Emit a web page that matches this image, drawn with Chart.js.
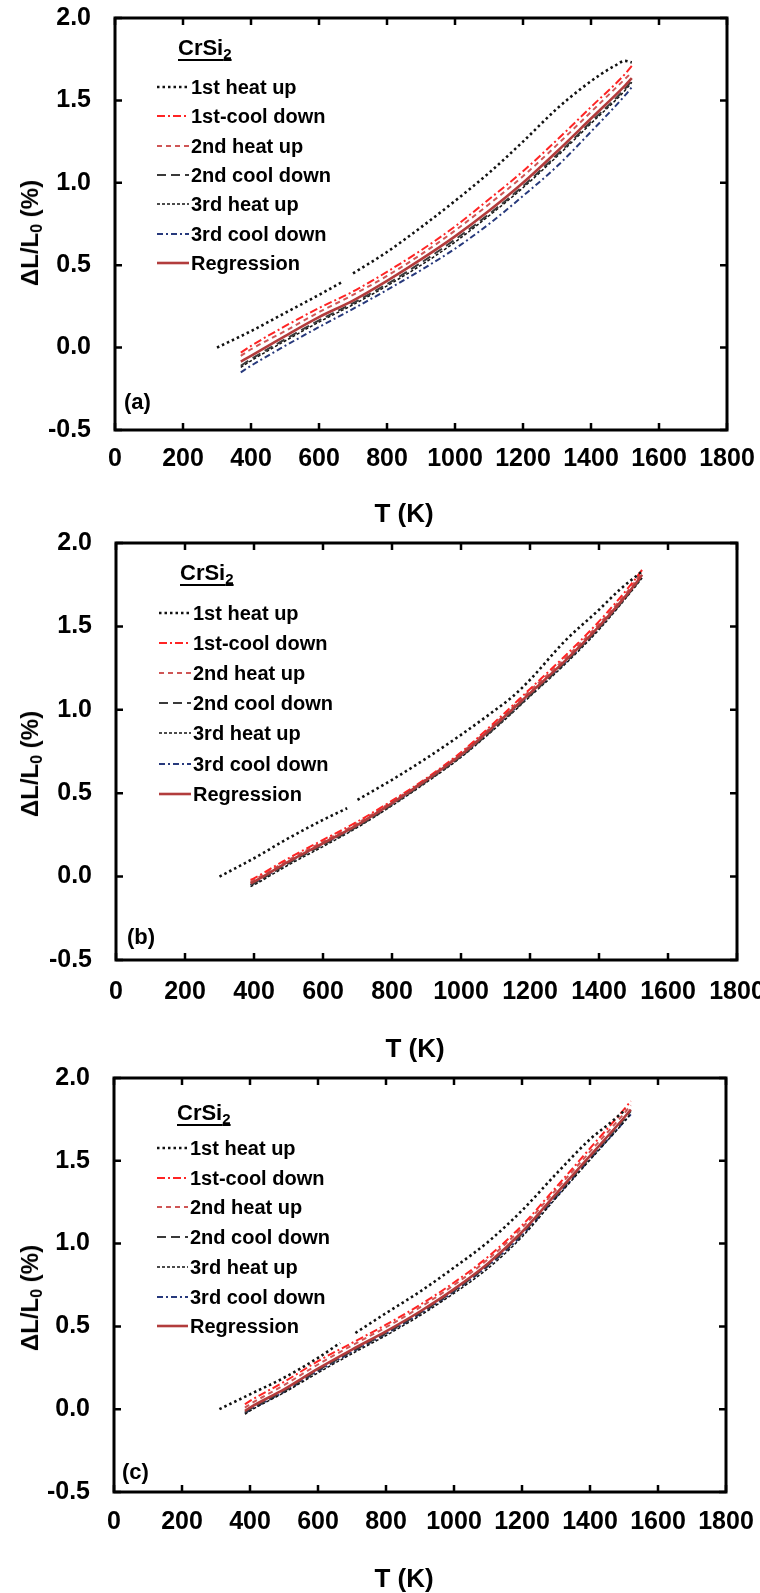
<!DOCTYPE html>
<html>
<head>
<meta charset="utf-8">
<script src="https://cdn.jsdelivr.net/npm/chart.js@4.4.1/dist/chart.umd.min.js"></script>
<style>
    body { margin: 0; background: #fff; }
    #page { position: relative; width: 760px; height: 1593px; overflow: hidden; font-family: "Liberation Sans", Arial, sans-serif; font-weight: bold; color: #000; }
    #page canvas { position: absolute; left: 0; }
    .legend-title { position: absolute; font-size: 22px; line-height: 22px; text-decoration: underline; text-decoration-thickness: 2px; text-underline-offset: 4px; white-space: nowrap; }
    .legend-title sub { font-size: 15px; vertical-align: -4px; line-height: 0; }
    .entry { position: absolute; font-size: 20px; line-height: 20px; white-space: nowrap; }
    .sample { position: absolute; overflow: visible; }
    .ytitle { position: absolute; font-size: 24px; line-height: 24px; white-space: nowrap; transform: translate(-50%, -50%) rotate(-90deg); }
    .ytitle sub { font-size: 16px; vertical-align: -4px; line-height: 0; }
    .xtitle { position: absolute; font-size: 26px; line-height: 26px; white-space: nowrap; transform: translate(-50%, -50%); }
    .tag { position: absolute; font-size: 22px; line-height: 22px; }
</style>
</head>
<body>
<div id="page">
    <canvas id="chartA" width="760" height="530" style="top:0"></canvas>
    <canvas id="chartB" width="760" height="535" style="top:530px"></canvas>
    <canvas id="chartC" width="760" height="528" style="top:1065px"></canvas>
</div>
<script>
// ---- data ----
const legendLabels = ['1st heat up', '1st-cool down', '2nd heat up', '2nd cool down', '3rd heat up', '3rd cool down', 'Regression'];
const xTicks = [0, 200, 400, 600, 800, 1000, 1200, 1400, 1600, 1800];
const yTicks = [-0.5, 0.0, 0.5, 1.0, 1.5, 2.0];

// panel (a)
const tHeat1A = [300, 400, 500, 600, 670, 685, 700, 800, 900, 1000, 1100, 1200, 1300, 1370, 1430, 1470, 1500, 1520];
const heat1A = [0.00, 0.10, 0.21, 0.32, 0.40, null, 0.45, 0.58, 0.73, 0.89, 1.06, 1.25, 1.45, 1.57, 1.66, 1.71, 1.74, 1.73];
const tRunA = [370, 400, 500, 600, 700, 800, 900, 1000, 1100, 1200, 1300, 1400, 1500, 1520];
const cool1A = [-0.03, 0.01, 0.13, 0.24, 0.34, 0.46, 0.59, 0.735, 0.90, 1.07, 1.26, 1.46, 1.66, 1.71];
const heat2A = [-0.05, -0.01, 0.10, 0.215, 0.32, 0.435, 0.565, 0.71, 0.87, 1.04, 1.23, 1.43, 1.63, 1.67];
const cool2A = [-0.11, -0.07, 0.05, 0.165, 0.27, 0.385, 0.515, 0.655, 0.81, 0.98, 1.17, 1.37, 1.57, 1.62];
const heat3A = [-0.12, -0.08, 0.04, 0.155, 0.26, 0.375, 0.50, 0.64, 0.80, 0.97, 1.16, 1.36, 1.56, 1.61];
const cool3A = [-0.15, -0.11, 0.01, 0.125, 0.235, 0.35, 0.47, 0.60, 0.75, 0.92, 1.10, 1.31, 1.53, 1.58];
const regA = [-0.085, -0.05, 0.07, 0.185, 0.285, 0.405, 0.535, 0.675, 0.83, 1.00, 1.19, 1.39, 1.59, 1.635];

// panel (b)
const tHeat1B = [300, 400, 500, 600, 670, 685, 700, 800, 900, 1000, 1100, 1150, 1200, 1300, 1400, 1460, 1525];
const heat1B = [0.00, 0.11, 0.23, 0.34, 0.41, null, 0.46, 0.58, 0.71, 0.85, 1.00, 1.08, 1.18, 1.41, 1.60, 1.72, 1.83];
const tRunB = [390, 400, 500, 600, 700, 800, 900, 1000, 1100, 1200, 1300, 1400, 1500, 1525];
const cool1B = [-0.02, -0.01, 0.11, 0.22, 0.33, 0.455, 0.59, 0.745, 0.93, 1.125, 1.32, 1.53, 1.77, 1.84];
const heat2B = [-0.03, -0.02, 0.10, 0.21, 0.32, 0.45, 0.585, 0.74, 0.92, 1.115, 1.305, 1.515, 1.755, 1.83];
const cool2B = [-0.05, -0.04, 0.08, 0.19, 0.30, 0.43, 0.57, 0.72, 0.895, 1.085, 1.28, 1.49, 1.73, 1.80];
const heat3B = [-0.06, -0.05, 0.07, 0.18, 0.295, 0.425, 0.565, 0.715, 0.89, 1.08, 1.27, 1.48, 1.725, 1.79];
const cool3B = [-0.05, -0.04, 0.085, 0.195, 0.305, 0.435, 0.575, 0.725, 0.90, 1.09, 1.28, 1.49, 1.735, 1.80];
const regB = [-0.04, -0.03, 0.09, 0.20, 0.31, 0.44, 0.58, 0.73, 0.91, 1.10, 1.29, 1.50, 1.74, 1.81];

// panel (c)
const tHeat1C = [310, 400, 500, 600, 665, 690, 710, 800, 900, 1000, 1100, 1200, 1300, 1400, 1460, 1505];
const heat1C = [0.00, 0.09, 0.19, 0.31, 0.40, null, 0.46, 0.58, 0.71, 0.855, 1.01, 1.20, 1.42, 1.63, 1.73, 1.81];
const tRunC = [385, 400, 500, 600, 700, 800, 900, 1000, 1100, 1200, 1300, 1400, 1500, 1520];
const cool1C = [0.03, 0.05, 0.165, 0.29, 0.40, 0.51, 0.63, 0.765, 0.92, 1.11, 1.34, 1.575, 1.81, 1.86];
const heat2C = [0.01, 0.03, 0.145, 0.27, 0.385, 0.495, 0.615, 0.75, 0.905, 1.095, 1.325, 1.555, 1.785, 1.835];
const cool2C = [-0.02, 0.00, 0.11, 0.235, 0.35, 0.46, 0.58, 0.715, 0.87, 1.06, 1.29, 1.52, 1.75, 1.80];
const heat3C = [-0.03, -0.01, 0.10, 0.22, 0.335, 0.445, 0.565, 0.70, 0.85, 1.04, 1.275, 1.505, 1.735, 1.785];
const cool3C = [-0.025, -0.005, 0.105, 0.23, 0.345, 0.455, 0.575, 0.71, 0.865, 1.05, 1.28, 1.51, 1.735, 1.78];
const regC = [-0.01, 0.01, 0.12, 0.245, 0.36, 0.47, 0.59, 0.725, 0.88, 1.07, 1.30, 1.53, 1.76, 1.81];

// ---- styles ----
const seriesColors = ['#111111', '#ff2424', '#cf5656', '#3a3a3a', '#111111', '#27397c', '#b23c3c'];
const seriesDash = [[2.5, 3], [8, 3, 2, 3], [5, 4], [9, 5], [3, 2], [6, 3, 2, 3], []];
const seriesWidth = [2.6, 2, 2, 2, 1.5, 2, 2.6];

const panels = [
    {
        canvas: 'chartA', tag: '(a)',
        area: { left: 115, right: 727, top: 18, bottom: 430 }, labelPad: 14,
        heat1: [tHeat1A, heat1A], tRun: tRunA, runs: [cool1A, heat2A, cool2A, heat3A, cool3A, regA],
        legend: { titleX: 178, titleY: 48, textX: 191, sampleX: 157, firstY: 87, step: 29.3 },
        yTitle: [30, 233], xTitle: [404, 513], tagPos: [124, 402]
    },
    {
        canvas: 'chartB', tag: '(b)',
        area: { left: 116, right: 737, top: 13, bottom: 430 }, labelPad: 17,
        heat1: [tHeat1B, heat1B], tRun: tRunB, runs: [cool1B, heat2B, cool2B, heat3B, cool3B, regB],
        legend: { titleX: 180, titleY: 573, textX: 193, sampleX: 159, firstY: 613, step: 30.1 },
        yTitle: [30, 764], xTitle: [415, 1048], tagPos: [127, 937]
    },
    {
        canvas: 'chartC', tag: '(c)',
        area: { left: 114, right: 726, top: 13, bottom: 427 }, labelPad: 15,
        heat1: [tHeat1C, heat1C], tRun: tRunC, runs: [cool1C, heat2C, cool2C, heat3C, cool3C, regC],
        legend: { titleX: 177, titleY: 1113, textX: 190, sampleX: 157, firstY: 1148, step: 29.7 },
        yTitle: [30, 1298], xTitle: [404, 1578], tagPos: [122, 1472]
    }
];

// box frame with inward ticks on all four sides
const frameTicks = {
    id: 'frameTicks',
    afterDraw(chart) {
        const { ctx, chartArea: a, scales: { x, y } } = chart;
        const len = 7;
        ctx.save();
        ctx.strokeStyle = '#000';
        ctx.lineWidth = 2.5;
        ctx.beginPath();
        xTicks.forEach(function(v) {
            const px = x.getPixelForValue(v);
            ctx.moveTo(px, a.bottom); ctx.lineTo(px, a.bottom - len);
            ctx.moveTo(px, a.top); ctx.lineTo(px, a.top + len);
        });
        yTicks.forEach(function(v) {
            const py = y.getPixelForValue(v);
            ctx.moveTo(a.left, py); ctx.lineTo(a.left + len, py);
            ctx.moveTo(a.right, py); ctx.lineTo(a.right - len, py);
        });
        ctx.stroke();
        ctx.lineWidth = 3;
        ctx.strokeRect(a.left, a.top, a.right - a.left, a.bottom - a.top);
        ctx.restore();
    }
};

function toPoints(xs, ys) {
    return xs.map(function(t, i) { return { x: t, y: ys[i] }; });
}

function makeDataset(i, points) {
    return {
        label: legendLabels[i],
        data: points,
        borderColor: seriesColors[i],
        borderDash: seriesDash[i],
        borderWidth: seriesWidth[i],
        pointRadius: 0,
        fill: false,
        spanGaps: false,
        cubicInterpolationMode: 'monotone',
        order: i === 6 ? 0 : 1
    };
}

function tickFont() {
    return { family: '"Liberation Sans", Arial, sans-serif', size: 25, weight: 'bold' };
}

const page = document.getElementById('page');

function addEl(cls, html, css) {
    const el = document.createElement('div');
    el.className = cls;
    el.innerHTML = html;
    Object.assign(el.style, css);
    page.appendChild(el);
    return el;
}

function addSample(i, x, y, w) {
    const ns = 'http://www.w3.org/2000/svg';
    const svg = document.createElementNS(ns, 'svg');
    svg.setAttribute('class', 'sample');
    svg.setAttribute('width', w);
    svg.setAttribute('height', 8);
    svg.style.left = x + 'px';
    svg.style.top = (y - 4) + 'px';
    const line = document.createElementNS(ns, 'line');
    line.setAttribute('x1', 0); line.setAttribute('y1', 4);
    line.setAttribute('x2', w); line.setAttribute('y2', 4);
    line.setAttribute('stroke', seriesColors[i]);
    line.setAttribute('stroke-width', seriesWidth[i]);
    if (seriesDash[i].length) line.setAttribute('stroke-dasharray', seriesDash[i].join(' '));
    svg.appendChild(line);
    page.appendChild(svg);
}

panels.forEach(function(p) {
    const canvas = document.getElementById(p.canvas);
    const datasets = [makeDataset(0, toPoints(p.heat1[0], p.heat1[1]))];
    p.runs.forEach(function(ys, k) {
        datasets.push(makeDataset(k + 1, toPoints(p.tRun, ys)));
    });

    new Chart(canvas, {
        type: 'line',
        data: { datasets: datasets },
        plugins: [frameTicks],
        options: {
            responsive: false,
            animation: false,
            layout: { padding: { left: 0, top: p.area.top, right: canvas.width - p.area.right, bottom: 0 } },
            plugins: { legend: { display: false }, tooltip: { enabled: false } },
            scales: {
                x: {
                    type: 'linear', min: 0, max: 1800,
                    grid: { display: false, drawTicks: false },
                    border: { display: false },
                    ticks: {
                        stepSize: 200, autoSkip: false, maxRotation: 0, minRotation: 0,
                        padding: p.labelPad, color: '#000', font: tickFont(),
                        callback: function(v) { return String(v); }
                    },
                    afterFit: function(scale) {
                        scale.height = canvas.height - p.area.bottom;
                        scale.paddingLeft = 0; scale.paddingRight = 0;
                    }
                },
                y: {
                    type: 'linear', min: -0.5, max: 2.0,
                    grid: { display: false, drawTicks: false },
                    border: { display: false },
                    ticks: {
                        stepSize: 0.5, autoSkip: false, padding: 24, color: '#000', font: tickFont(),
                        callback: function(v) { return Number(v).toFixed(1); }
                    },
                    afterFit: function(scale) {
                        scale.width = p.area.left;
                        scale.paddingTop = 0; scale.paddingBottom = 0;
                    }
                }
            }
        }
    });

    // legend inside the plot
    const lg = p.legend;
    addEl('legend-title', 'CrSi<sub>2</sub>', { left: lg.titleX + 'px', top: (lg.titleY - 11) + 'px' });
    legendLabels.forEach(function(label, i) {
        const cy = lg.firstY + i * lg.step;
        addSample(i, lg.sampleX, cy, lg.textX - lg.sampleX - 2);
        addEl('entry', label, { left: lg.textX + 'px', top: (cy - 10) + 'px' });
    });

    addEl('ytitle', '\u0394L/L<sub>0</sub> (%)', { left: p.yTitle[0] + 'px', top: p.yTitle[1] + 'px' });
    addEl('xtitle', 'T (K)', { left: p.xTitle[0] + 'px', top: p.xTitle[1] + 'px' });
    addEl('tag', p.tag, { left: p.tagPos[0] + 'px', top: (p.tagPos[1] - 11) + 'px' });
});
</script>
</body>
</html>
